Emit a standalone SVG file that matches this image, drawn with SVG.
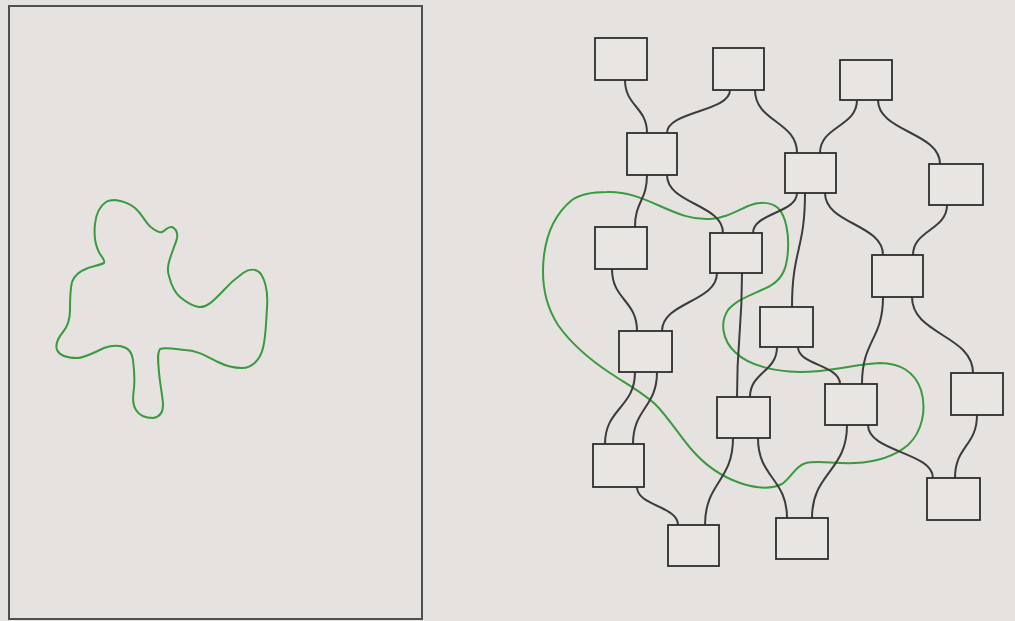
<svg xmlns="http://www.w3.org/2000/svg" width="1015" height="621" viewBox="0 0 1015 621">
<style>
.bg{fill:#e6e2df}
.panel{fill:#e6e2df;stroke:#505050;stroke-width:2}
.node rect{fill:#e8e5e2;stroke:#2e2e2e;stroke-width:1.8}
.edge{fill:none;stroke:#3c3c3c;stroke-width:2}
.blob{fill:none;stroke:#3a9a3f;stroke-width:2}
</style>
<rect class="bg" x="0" y="0" width="1015" height="621"/>
<rect class="panel" x="9" y="6" width="413" height="613"/>
<path class="blob" d="M115,200 C125,201 130,204 135,208 C143,215 146,224 152,228 C156,231 160,233 162,232 C166,230 168,226 172,227 C176,229 178,232 177,238 C176,243 174,246 173,250 C170,258 166,268 169,276 C171,284 174,292 180,297 C186,302 192,306 199,307 C207,308 214,300 222,292 C229,284 236,278 243,273 C249,269 256,268 261,274 C266,282 268,294 267,308 C266,322 266,336 263,348 C260,360 252,368 242,368 C232,368 226,366 218,362 C206,356 196,350 185,350 C175,349 165,347 160,349 C157,353 158,362 159,372 C160,385 163,398 163,405 C163,412 160,417 153,418 C145,418 139,415 136,410 C132,404 133,396 134,388 C135,378 134,368 133,360 C132,353 130,350 126,348 C120,345 112,345 104,348 C95,352 85,358 77,358 C68,358 60,356 57,350 C55,344 58,338 63,332 C68,326 70,318 70,310 C70,300 70,290 72,282 C74,276 80,271 88,268 C94,266 100,265 104,263 C106,260 100,256 98,250 C95,243 94,233 95,224 C96,214 100,206 106,202 C109,200 112,200 115,200 Z"/>
<path class="blob" d="M607,192 C625,191 642,198 660,206 C678,214 692,220 710,219 C725,218 735,212 748,206 C758,202 770,201 778,208 C786,216 789,234 788,250 C787,266 784,278 770,286 C755,294 738,298 728,310 C720,322 722,340 735,352 C748,365 770,371 800,372 C830,372 855,364 880,363 C900,363 915,372 921,390 C927,410 922,432 908,445 C895,456 878,462 855,463 C835,464 818,460 806,463 C795,466 792,477 782,484 C770,490 755,488 740,483 C720,476 705,465 692,450 C680,436 670,420 657,406 C645,394 628,385 610,373 C592,361 572,345 558,325 C545,305 541,280 544,255 C547,232 556,213 572,200 C582,193 594,192 607,192 Z"/>
<g id="connectors">
<path class="edge" d="M625,80 C625,106 647,107 647,133"/>
<path class="edge" d="M730,90 C730,112 667,111 667,133"/>
<path class="edge" d="M755,90 C755,122 797,121 797,153"/>
<path class="edge" d="M857,100 C857,127 820,126 820,153"/>
<path class="edge" d="M878,100 C878,132 940,132 940,164"/>
<path class="edge" d="M647,175 C647,201 635,201 635,227"/>
<path class="edge" d="M667,175 C667,204 723,204 723,233"/>
<path class="edge" d="M797,193 C797,213 753,213 753,233"/>
<path class="edge" d="M805,193 C805,250 792,250 792,307"/>
<path class="edge" d="M825,193 C825,224 883,224 883,255"/>
<path class="edge" d="M947,205 C947,230 913,230 913,255"/>
<path class="edge" d="M612,269 C612,300 637,300 637,331"/>
<path class="edge" d="M717,273 C717,302 662,302 662,331"/>
<path class="edge" d="M742,273 C742,335 737,335 737,397"/>
<path class="edge" d="M883,297 C883,340 862,340 862,384"/>
<path class="edge" d="M912,297 C912,335 973,335 973,373"/>
<path class="edge" d="M777,347 C777,372 750,372 750,397"/>
<path class="edge" d="M798,347 C798,365 840,365 840,384"/>
<path class="edge" d="M635,372 C635,408 605,408 605,444"/>
<path class="edge" d="M657,372 C657,408 633,408 633,444"/>
<path class="edge" d="M847,425 C847,472 812,472 812,518"/>
<path class="edge" d="M868,425 C868,452 933,452 933,478"/>
<path class="edge" d="M977,415 C977,446 955,446 955,478"/>
<path class="edge" d="M733,438 C733,482 705,482 705,525"/>
<path class="edge" d="M758,438 C758,478 787,478 787,518"/>
<path class="edge" d="M637,487 C637,506 678,506 678,525"/>
</g>
<g id="A" class="node"><rect x="595" y="38" width="52" height="42"/></g>
<g id="B" class="node"><rect x="713" y="48" width="51" height="42"/></g>
<g id="C" class="node"><rect x="840" y="60" width="52" height="40"/></g>
<g id="D" class="node"><rect x="627" y="133" width="50" height="42"/></g>
<g id="E" class="node"><rect x="785" y="153" width="51" height="40"/></g>
<g id="F" class="node"><rect x="929" y="164" width="54" height="41"/></g>
<g id="G" class="node"><rect x="595" y="227" width="52" height="42"/></g>
<g id="H" class="node"><rect x="710" y="233" width="52" height="40"/></g>
<g id="I" class="node"><rect x="872" y="255" width="51" height="42"/></g>
<g id="J" class="node"><rect x="760" y="307" width="53" height="40"/></g>
<g id="K" class="node"><rect x="619" y="331" width="53" height="41"/></g>
<g id="L" class="node"><rect x="951" y="373" width="52" height="42"/></g>
<g id="M" class="node"><rect x="825" y="384" width="52" height="41"/></g>
<g id="N" class="node"><rect x="717" y="397" width="53" height="41"/></g>
<g id="O" class="node"><rect x="593" y="444" width="51" height="43"/></g>
<g id="P" class="node"><rect x="927" y="478" width="53" height="42"/></g>
<g id="Q" class="node"><rect x="668" y="525" width="51" height="41"/></g>
<g id="R" class="node"><rect x="776" y="518" width="52" height="41"/></g>
</svg>
